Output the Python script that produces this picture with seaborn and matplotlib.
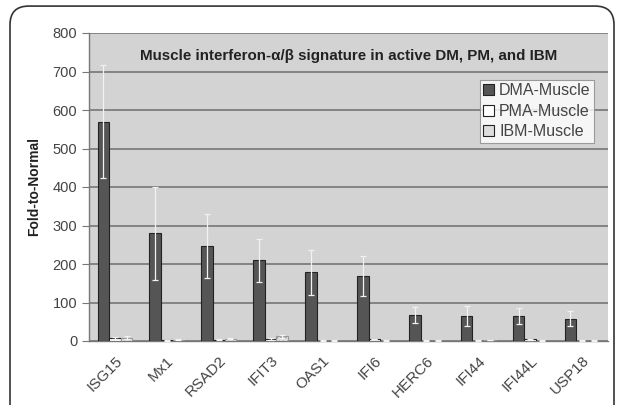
import numpy as np
import pandas as pd
import seaborn as sns
import matplotlib.pyplot as plt
from matplotlib.patches import FancyBboxPatch

genes = ["ISG15", "Mx1", "RSAD2", "IFIT3", "OAS1", "IFI6", "HERC6", "IFI44", "IFI44L", "USP18"]
groups = ["DMA-Muscle", "PMA-Muscle", "IBM-Muscle"]

dma_mean = [570, 280, 247, 210, 178, 170, 68, 66, 64, 58]
dma_err = [146, 121, 83, 56, 58, 52, 20, 26, 21, 20]
pma_mean = [8, 2, 3, 5, 1, 5, 1, 1, 4, 1]
pma_err = [3, 1, 1, 3, 0.5, 1, 0.5, 0.5, 1, 0.5]
ibm_mean = [9, 3, 6, 12, 1, 1, 1, 2, 1, 1]
ibm_err = [3, 1, 2, 4, 0.5, 0.5, 0.5, 0.5, 0.5, 0.5]

df = pd.DataFrame({
    "gene": genes * 3,
    "group": [g for g in groups for _ in genes],
    "value": dma_mean + pma_mean + ibm_mean,
})
errs = [dma_err, pma_err, ibm_err]

sns.set_style("white")
plt.rcParams["font.family"] = ["Liberation Sans", "DejaVu Sans"]

fig = plt.figure(figsize=(6.24, 4.05), dpi=100)
ax = fig.add_axes([89 / 624, 1 - 341 / 405, (608 - 89) / 624, (341 - 33) / 405])

# outer rounded frame
frame = FancyBboxPatch((10 / 624, -0.1), 604 / 624, 1.085, boxstyle="round,pad=0,rounding_size=0.03",
                       transform=fig.transFigure, fill=False, edgecolor="#333333", linewidth=1.2,
                       mutation_aspect=624 / 405)
fig.patches.append(frame)

sns.barplot(data=df, x="gene", y="value", hue="group", palette=["#555555", "white", "#dddddd"],
            errorbar=None, width=0.67, edgecolor="#222222", linewidth=0.8, ax=ax, zorder=3)

for patch in ax.containers[2]:
    patch.set_hatch("....")
    patch.set_edgecolor("#999999")

for cont, err in zip(ax.containers, errs):
    xs = [p.get_x() + p.get_width() / 2 for p in cont]
    ys = [p.get_height() for p in cont]
    ax.errorbar(xs, ys, yerr=err, fmt="none", ecolor="#f2f2f2", elinewidth=0.9, capsize=2.5,
                capthick=0.9, zorder=4)

ax.set_facecolor("#d3d3d3")
ax.set_ylim(0, 800)
ax.set_xlim(-0.5, len(genes) - 0.5)
ax.set_yticks(range(0, 801, 100))
ax.yaxis.grid(True, color="#6e6e6e", linewidth=1.1, zorder=1)
ax.set_axisbelow(True)

ax.set_xticks(np.arange(-0.5, len(genes), 1.0), minor=True)
ax.tick_params(axis="x", which="major", length=0, pad=9)
ax.tick_params(axis="x", which="minor", length=5, color="#777777", direction="out")
ax.tick_params(axis="y", length=5, color="#777777", direction="out", left=True, labelsize=10.5,
               labelcolor="#444444")
ax.set_xticklabels(genes, rotation=45, ha="right", rotation_mode="anchor", fontsize=11,
                   color="#444444")

for s in ["top", "right"]:
    ax.spines[s].set_visible(False)
for s in ["left", "bottom"]:
    ax.spines[s].set_color("#777777")
    ax.spines[s].set_linewidth(1.0)

ax.set_xlabel("")
ax.set_ylabel("Fold-to-Normal", fontsize=10, fontweight="bold", color="#222222", labelpad=8)
ax.text(0.5, 0.925, "Muscle interferon-\u03b1/\u03b2 signature in active DM, PM, and IBM",
        transform=ax.transAxes, ha="center", va="center", fontsize=10.9, fontweight="bold",
        color="#222222")

leg = ax.legend(loc="upper right", bbox_to_anchor=(0.973, 0.847), fontsize=11.5, frameon=True,
                fancybox=False, edgecolor="#888888", handlelength=0.7, handleheight=0.7,
                handletextpad=0.3, borderpad=0.2, labelspacing=0.35, borderaxespad=0)
leg.get_frame().set_linewidth(0.8)
for t in leg.get_texts():
    t.set_color("#444444")

fig.savefig("out.png", dpi=100)
